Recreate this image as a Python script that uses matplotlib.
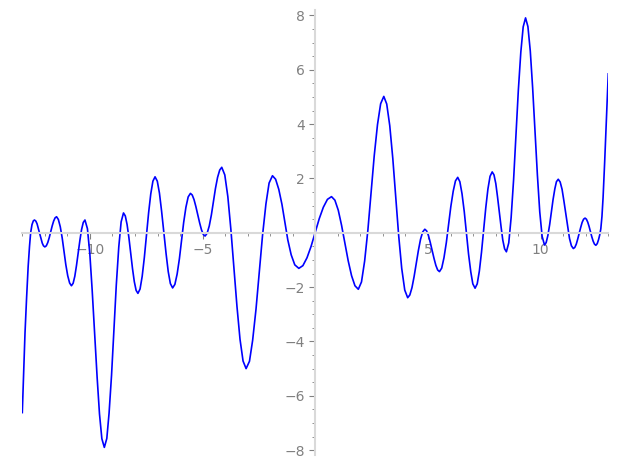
import matplotlib
matplotlib.use("Agg")
import matplotlib.pyplot as plt
from matplotlib.ticker import MultipleLocator, FuncFormatter

# points, left to right
xs = [-13.0, -12.94, -12.88, -12.81, -12.74, -12.68, -12.63, -12.57, -12.51, -12.46,
      -12.40, -12.345, -12.29, -12.23, -12.17, -12.115, -12.06, -12.0,
      -11.935, -11.87, -11.805, -11.74, -11.675, -11.61, -11.545, -11.48,
      -11.40, -11.315, -11.23, -11.15, -11.07, -10.985, -10.90, -10.82,
      -10.745, -10.67, -10.595, -10.52, -10.445, -10.37, -10.295, -10.22,
      -10.11, -10.005, -9.90, -9.79, -9.68, -9.575, -9.47, -9.36,
      -9.25, -9.15, -9.04, -8.935, -8.83, -8.72, -8.615, -8.51,
      -8.43, -8.35, -8.27, -8.19, -8.11, -8.03, -7.95, -7.87,
      -7.775, -7.68, -7.585, -7.49, -7.395, -7.30, -7.205, -7.11,
      -7.01, -6.915, -6.82, -6.72, -6.62, -6.525, -6.43, -6.33,
      -6.23, -6.13, -6.03, -5.935, -5.84, -5.74, -5.64, -5.54,
      -5.46, -5.38, -5.30, -5.215, -5.13, -5.05, -4.97, -4.89,
      -4.80, -4.705, -4.61, -4.52, -4.43, -4.335, -4.24, -4.15,
      -4.015, -3.88, -3.745, -3.61, -3.475, -3.34, -3.205, -3.07,
      -2.92, -2.78, -2.63, -2.485, -2.34, -2.19, -2.05, -1.90,
      -1.76, -1.62, -1.48, -1.35, -1.22, -1.07, -0.91, -0.73,
      -0.55, -0.3675, -0.186, -0.005, 0.176, 0.3575, 0.539, 0.72,
      0.87, 1.02, 1.165, 1.315, 1.46, 1.61, 1.76, 1.91,
      2.05, 2.19, 2.335, 2.475, 2.615, 2.76, 2.90, 3.04,
      3.17, 3.305, 3.44, 3.57, 3.70, 3.835, 3.97, 4.10,
      4.195, 4.29, 4.385, 4.48, 4.575, 4.67, 4.765, 4.86,
      4.94, 5.02, 5.10, 5.185, 5.27, 5.35, 5.43, 5.51,
      5.61, 5.71, 5.815, 5.915, 6.015, 6.12, 6.22, 6.32,
      6.415, 6.51, 6.61, 6.705, 6.80, 6.90, 6.99, 7.09,
      7.185, 7.28, 7.375, 7.47, 7.565, 7.66, 7.755, 7.85,
      7.93, 8.01, 8.085, 8.165, 8.245, 8.32, 8.40, 8.48,
      8.585, 8.69, 8.80, 8.905, 9.01, 9.12, 9.225, 9.33,
      9.435, 9.54, 9.645, 9.75, 9.855, 9.96, 10.065, 10.17,
      10.245, 10.32, 10.40, 10.475, 10.55, 10.63, 10.70, 10.78,
      10.865, 10.95, 11.03, 11.115, 11.20, 11.28, 11.365, 11.45,
      11.515, 11.58, 11.645, 11.71, 11.775, 11.84, 11.905, 11.97,
      12.03, 12.09, 12.15, 12.21, 12.27, 12.33, 12.39, 12.45,
      12.51, 12.57, 12.62, 12.67, 12.72, 12.77, 12.84, 12.92, 13.0]
ys = [-6.62, -5.1, -3.69, -2.4, -1.24, -0.5, 0.0, 0.3, 0.44, 0.47,
      0.43, 0.33, 0.16, -0.03, -0.21, -0.38, -0.48, -0.52,
      -0.48, -0.36, -0.18, 0.04, 0.25, 0.43, 0.55, 0.59,
      0.49, 0.22, -0.19, -0.68, -1.17, -1.58, -1.85, -1.95,
      -1.86, -1.60, -1.20, -0.74, -0.28, 0.12, 0.38, 0.47,
      0.15, -0.76, -2.11, -3.72, -5.32, -6.67, -7.58, -7.9,
      -7.57, -6.64, -5.24, -3.59, -1.93, -0.53, 0.40, 0.73,
      0.62, 0.30, -0.18, -0.75, -1.32, -1.80, -2.12, -2.23,
      -2.07, -1.60, -0.91, -0.09, 0.74, 1.43, 1.90, 2.06,
      1.90, 1.46, 0.80, 0.02, -0.77, -1.43, -1.87, -2.03,
      -1.90, -1.52, -0.96, -0.29, 0.38, 0.94, 1.32, 1.45,
      1.39, 1.22, 0.97, 0.67, 0.36, 0.11, -0.06, -0.12,
      -0.02, 0.25, 0.66, 1.15, 1.63, 2.04, 2.31, 2.41,
      2.13, 1.33, 0.12, -1.30, -2.71, -3.92, -4.72, -5.0,
      -4.73, -3.96, -2.81, -1.45, -0.09, 1.06, 1.83, 2.10,
      1.97, 1.60, 1.05, 0.40, -0.26, -0.81, -1.18, -1.31,
      -1.21, -0.92, -0.50, 0.01, 0.52, 0.94, 1.23, 1.33,
      1.20, 0.83, 0.28, -0.38, -1.03, -1.58, -1.95, -2.08,
      -1.81, -1.04, 0.11, 1.47, 2.83, 3.98, 4.75, 5.02,
      4.74, 3.94, 2.73, 1.32, -0.10, -1.31, -2.11, -2.39,
      -2.29, -2.02, -1.61, -1.13, -0.65, -0.24, 0.03, 0.13,
      0.07, -0.10, -0.35, -0.65, -0.95, -1.20, -1.37, -1.43,
      -1.30, -0.92, -0.36, 0.31, 0.97, 1.53, 1.91, 2.04,
      1.88, 1.44, 0.78, 0.0, -0.78, -1.44, -1.88, -2.04,
      -1.88, -1.41, -0.72, 0.10, 0.92, 1.61, 2.08, 2.24,
      2.13, 1.81, 1.33, 0.77, 0.21, -0.27, -0.59, -0.70,
      -0.37, 0.56, 1.96, 3.61, 5.25, 6.65, 7.58, 7.91,
      7.59, 6.69, 5.33, 3.73, 2.13, 0.77, -0.13, -0.45,
      -0.36, -0.10, 0.30, 0.76, 1.22, 1.62, 1.88, 1.97,
      1.87, 1.60, 1.18, 0.70, 0.21, -0.21, -0.48, -0.58,
      -0.54, -0.42, -0.23, -0.02, 0.19, 0.38, 0.50, 0.54,
      0.50, 0.39, 0.23, 0.04, -0.15, -0.31, -0.42, -0.46,
      -0.40, -0.25, -0.08, 0.15, 0.6, 1.3, 2.6, 4.2, 5.85]

x_major = 5
x_minor = 1
y_major = 2
y_minor = 0.5

fig = plt.figure(figsize=(6.3, 4.68), dpi=100)
ax = fig.add_axes([0.0354, 0.0278, 0.9301, 0.9508])

ax.plot(xs, ys, color='#0000ff', linewidth=1.2, solid_joinstyle='round')

ax.set_xlim(-13.0, 13.0)
ax.set_ylim(-8.18, 8.2)

axis_grey = '#d9d9d9'
label_grey = '#808080'
for side in ['top', 'right']:
    ax.spines[side].set_visible(False)
for side in ['left', 'bottom']:
    ax.spines[side].set_position(('data', 0))
    ax.spines[side].set_color(axis_grey)
    ax.spines[side].set_linewidth(1.5)

ax.xaxis.set_major_locator(MultipleLocator(x_major))
ax.xaxis.set_minor_locator(MultipleLocator(x_minor))
ax.yaxis.set_major_locator(MultipleLocator(y_major))
ax.yaxis.set_minor_locator(MultipleLocator(y_minor))


def fmt(v, pos):
    if abs(v) < 1e-9:
        return ''
    return ('%g' % v).replace('-', '\u2212')


ax.xaxis.set_major_formatter(FuncFormatter(fmt))
ax.yaxis.set_major_formatter(FuncFormatter(fmt))
ax.tick_params(which='major', length=4, width=0.8, color=label_grey,
               labelcolor=label_grey, labelsize=10)
ax.tick_params(which='minor', length=2, width=0.6, color=label_grey)

fig.savefig('out.png', dpi=100)
